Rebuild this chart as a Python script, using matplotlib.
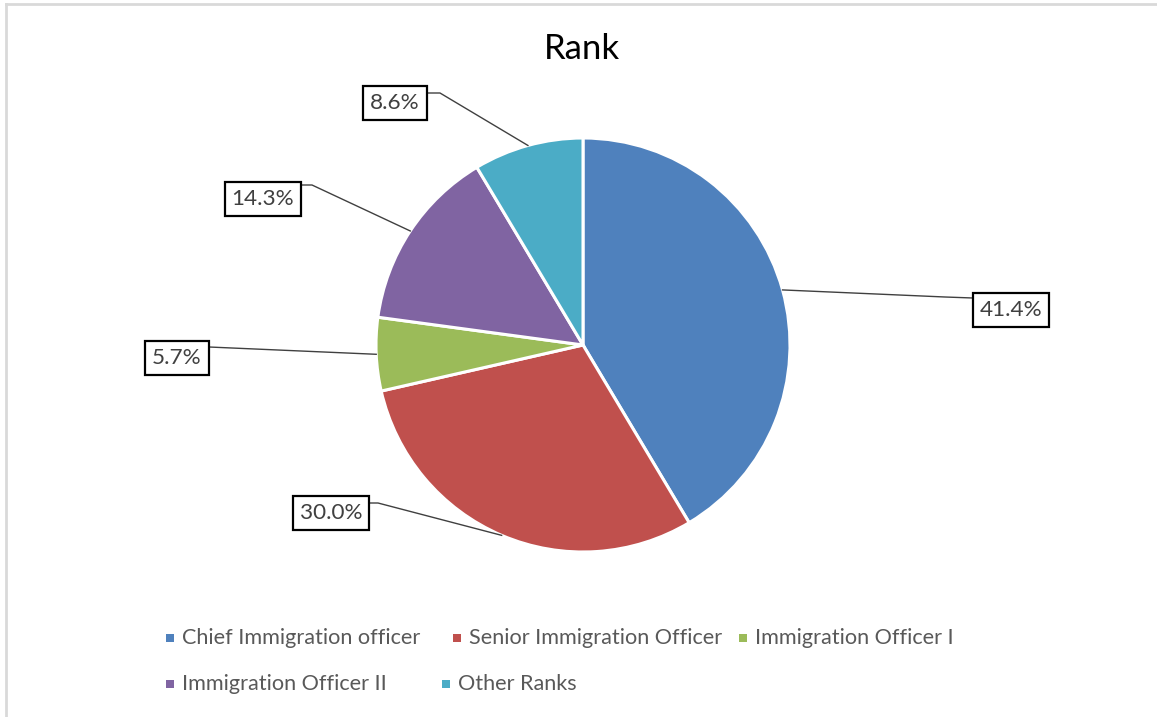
import numpy as np
import matplotlib
matplotlib.use('agg')
import matplotlib.pyplot as plt
from matplotlib.lines import Line2D

# data: respondents by rank (n = 70)
ranks = ["Chief Immigration officer", "Senior Immigration Officer",
         "Immigration Officer I", "Immigration Officer II", "Other Ranks"]
counts = [29, 21, 4, 10, 6]
colors = ["#4F81BD", "#C0504D", "#9BBB59", "#8064A2", "#4BACC6"]
title = "Rank"

plt.rcParams['font.family'] = ['Lato', 'DejaVu Sans']

W, H = 1157, 717
fig = plt.figure(figsize=(W / 100, H / 100), dpi=100)
ax = fig.add_axes([0, 0, 1, 1])

# pie in pixel coordinates (y measured from bottom)
cx, cy, r = 583, H - 345, 207
wedges, _ = ax.pie(counts, colors=colors, startangle=90, counterclock=False,
                   center=(cx, cy), radius=r, frame=True,
                   wedgeprops=dict(edgecolor="white", linewidth=2.2))
ax.set_xlim(0, W)
ax.set_ylim(0, H)
ax.axis('off')

# label boxes: centre of box, and elbow of the leader line (pixels from top)
box_pos = [(1011, 310), (331, 513), (177, 358), (263, 199), (395, 103)]
elbow = [(945, 297), (378, 503), (209, 347), (312, 185), (440, 93)]
box_edge = [(973, 298), (370, 503), (209, 347), (301, 185), (428, 93)]

total = sum(counts)
for w, v, bp, el, be in zip(wedges, counts, box_pos, elbow, box_edge):
    ang = np.deg2rad((w.theta1 + w.theta2) / 2.0)
    ax_pt = (cx + r * np.cos(ang), cy + r * np.sin(ang))
    ax.plot([ax_pt[0], el[0], be[0]], [ax_pt[1], H - el[1], H - be[1]],
            color="#404040", lw=1.0, zorder=1)
    ax.text(bp[0], H - bp[1], "%.1f%%" % (100.0 * v / total), fontsize=16.2,
            color="#404040", ha="center", va="center",
            bbox=dict(boxstyle="square,pad=0.3", fc="white", ec="black", lw=1.6))

ax.text(582, H - 49, title, fontsize=25, color="black", ha="center", va="center")

# legend, laid out as in the original
leg_pos = [(170, 638), (457, 638), (743, 638), (170, 684), (446, 684)]
for name, c, (lx, ly) in zip(ranks, colors, leg_pos):
    ax.scatter([lx], [H - ly], marker="s", s=40, color=c, linewidths=0)
    ax.text(lx + 12, H - ly, name, fontsize=15.6, color="#595959",
            ha="left", va="center")

# partial grey frame (cropped chart border)
fig.add_artist(Line2D([6 / W, 6 / W], [0, 1 - 4 / H], color="#D9D9D9", lw=2))
fig.add_artist(Line2D([6 / W, 1], [1 - 4 / H, 1 - 4 / H], color="#D9D9D9", lw=2))

fig.savefig("out.png", dpi=100, facecolor="white")
